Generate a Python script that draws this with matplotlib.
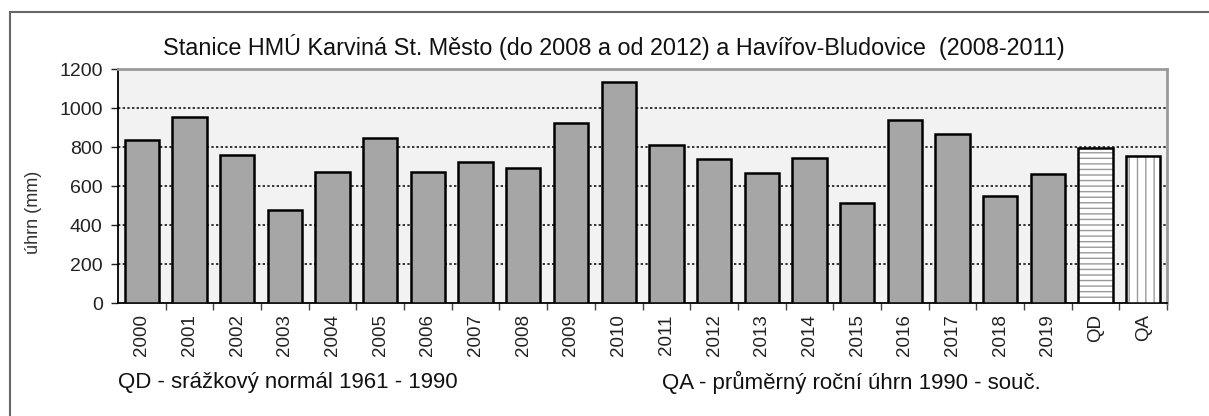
import matplotlib.pyplot as plt
import matplotlib.lines as mlines

plt.rcParams['font.family'] = ['Liberation Sans', 'DejaVu Sans']

# annual precipitation totals (mm)
years = ['2000', '2001', '2002', '2003', '2004', '2005', '2006', '2007', '2008', '2009',
         '2010', '2011', '2012', '2013', '2014', '2015', '2016', '2017', '2018', '2019']
totals = [836, 955, 757, 477, 670, 845, 673, 721, 694, 925,
          1132, 810, 737, 668, 742, 514, 938, 865, 550, 662]
# QD = normal 1961-1990, QA = mean 1990 - present
ref_labels = ['QD', 'QA']
ref_values = [797, 754]
yticks = [0, 200, 400, 600, 800, 1000, 1200]

title = 'Stanice HMÚ Karviná St. Město (do 2008 a od 2012) a Havířov-Bludovice  (2008-2011)'
note_qd = 'QD - srážkový normál 1961 - 1990'
note_qa = 'QA - průměrný roční úhrn 1990 - souč.'

fig = plt.figure(figsize=(12.09, 4.16), dpi=100)
ax = fig.add_axes([0.0976, 0.2716, 0.8677, 0.5625])
ax.set_facecolor('#f2f2f2')

n_years = len(years)
x_years = list(range(n_years))
x_ref = [n_years + i for i in range(len(ref_labels))]
w = 0.72

ax.bar(x_years, totals, width=w, color='#a6a6a6', edgecolor='black', linewidth=1.8, zorder=3)

# hatched reference bars: grey hatch layer, then black outline on top
hatches = ['---', '||']
for xi, v, h in zip(x_ref, ref_values, hatches):
    ax.bar(xi, v, width=w, color='white', edgecolor='#9a9a9a', hatch=h, linewidth=0, zorder=3)
    ax.bar(xi, v, width=w, fill=False, edgecolor='black', linewidth=1.8, zorder=4)

ax.set_xlim(-0.5, n_years + len(ref_labels) - 0.5)
ax.set_ylim(0, 1200)
ax.set_yticks(yticks)
ax.tick_params(axis='y', labelsize=14, length=5, width=1, colors='#222222', pad=6)

ax.set_xticks(x_years + x_ref)
ax.set_xticklabels(years + ref_labels, rotation=90, fontsize=13.5, color='#222222')
ax.tick_params(axis='x', length=0, pad=8)
# tick marks sit between the categories
ax.set_xticks([i + 0.5 for i in range(n_years + len(ref_labels))], minor=True)
ax.tick_params(axis='x', which='minor', length=5, width=1, color='#444444')

for y in yticks[1:-1]:
    ax.axhline(y, color='#333333', linestyle=(0, (1.2, 1.2)), linewidth=1.4, zorder=1)

ax.spines['left'].set_color('black')
ax.spines['bottom'].set_color('black')
ax.spines['left'].set_linewidth(1.3)
ax.spines['bottom'].set_linewidth(1.3)
ax.spines['top'].set_color('#9a9a9a')
ax.spines['right'].set_color('#9a9a9a')
ax.spines['top'].set_linewidth(2)
ax.spines['right'].set_linewidth(2)

fig.text(0.0275, 0.49, 'úhrn (mm)', rotation=90, ha='center', va='center',
         fontsize=13, color='#333333')
fig.text(0.508, 0.887, title, ha='center', va='center', fontsize=16.8, color='#111111')
fig.text(0.0976, 0.08, note_qd, ha='left', va='center', fontsize=16, color='#111111')
fig.text(0.5476, 0.08, note_qa, ha='left', va='center', fontsize=16, color='#111111')

# outer frame (left and top edges)
fig.add_artist(mlines.Line2D([0.0085, 0.0085], [0.0, 0.971], color='#666666', linewidth=1.5))
fig.add_artist(mlines.Line2D([0.0085, 1.0], [0.971, 0.971], color='#666666', linewidth=1.5))

fig.savefig('out.png', dpi=100)
